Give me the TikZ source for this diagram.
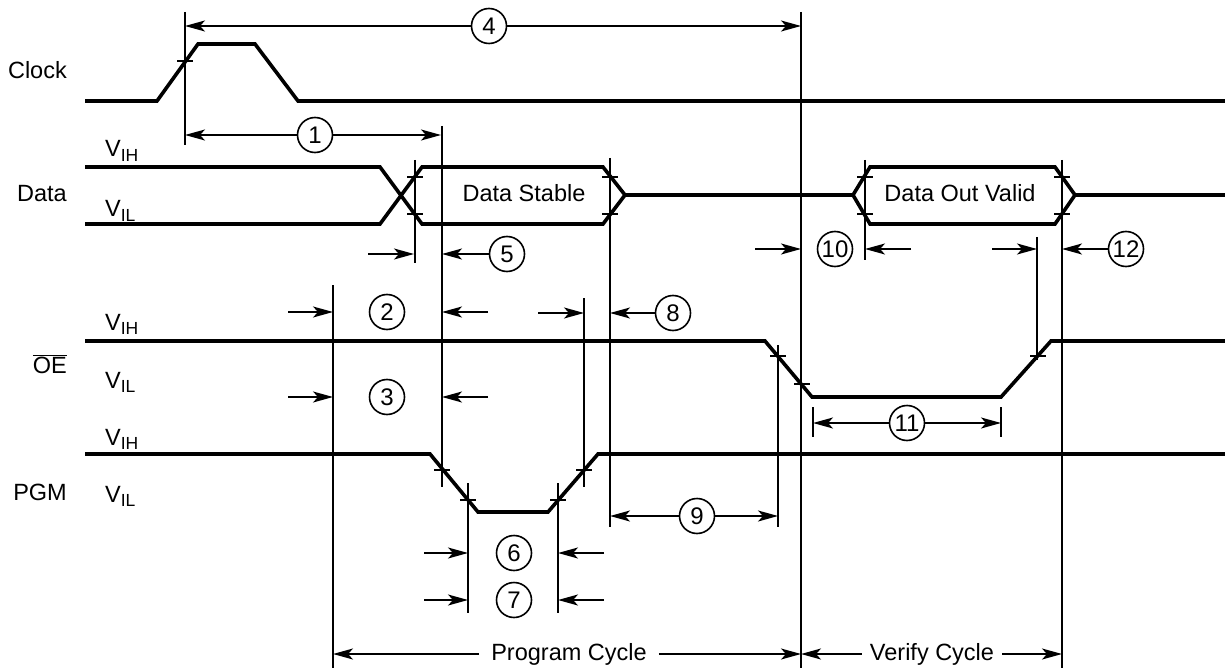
\documentclass[tikz,border=0pt]{standalone}
\usepackage{fontspec}
\setmainfont{Liberation Sans}
\usetikzlibrary{arrows.meta}
\begin{document}
\begin{tikzpicture}[x=1pt,y=-1pt,
  sig/.style={line width=3.6pt, line join=miter},
  guide/.style={line width=1.6pt},
  dim/.style={line width=1.6pt, -{Stealth[length=20pt,width=11pt,inset=5pt]}},
  tk/.style={line width=1.8pt},
  num/.style={circle, draw, line width=1.6pt, minimum size=35pt, inner sep=0pt, font=\fontsize{24}{24}\selectfont},
  lbl/.style={font=\fontsize{23.5}{27}\selectfont, inner sep=0pt},
  cyc/.style={font=\fontsize{23.5}{27}\selectfont, inner sep=12pt},
]
\useasboundingbox (0,0) rectangle (1225,668);
\newcommand{\vsub}[1]{V\raisebox{-4.5pt}{\fontsize{17.5}{17.5}\selectfont #1}}

% ---- signal labels ----
\node[lbl, anchor=base east] (lclk) at (67,79) {Clock};
\node[lbl, anchor=base east] (ldat) at (67,202) {Data};
\node[lbl, anchor=base east] (loe) at (67,373) {$\overline{\hbox{OE}}$};
\node[lbl, anchor=base east] (lpgm) at (67,500) {PGM};
\node[lbl, anchor=base west] (dvih) at (105,157) {\vsub{IH}};
\node[lbl, anchor=base west] (dvil) at (105,217) {\vsub{IL}};
\node[lbl, anchor=base west] (ovih) at (105,330) {\vsub{IH}};
\node[lbl, anchor=base west] (ovil) at (105,388) {\vsub{IL}};
\node[lbl, anchor=base west] (pvih) at (105,445) {\vsub{IH}};
\node[lbl, anchor=base west] (pvil) at (105,502) {\vsub{IL}};

% ---- waveforms ----
\draw[sig] (85,101) -- (157,101) -- (198,44) -- (255,44) -- (298,101) -- (1225,101);
\draw[sig] (85,167) -- (380,167) -- (422,224) -- (603,224) -- (625,195) -- (853,195)
  -- (870,224) -- (1055,224) -- (1075,195) -- (1225,195);
\draw[sig] (85,224) -- (380,224) -- (422,167) -- (603,167) -- (625,195);
\draw[sig] (853,195) -- (870,167) -- (1055,167) -- (1075,195);
\draw[sig] (85,341) -- (765,341) -- (812,397) -- (1001,397) -- (1051,341) -- (1225,341);
\draw[sig] (85,454) -- (430,454) -- (478,512) -- (548,512) -- (598,454) -- (1225,454);

\node[lbl, anchor=base] (dstab) at (524,202) {Data Stable};
\node[lbl, anchor=base] (dout) at (960,202) {Data Out Valid};

% ---- ticks ----
\foreach \x/\y in {185/61, 415/177, 415/214, 610/177, 610/214, 865/177, 865/214,
  1062/177, 1062/214, 778/356, 802/384, 1038/356, 442/470, 468/500, 558/500, 584/470}
  \draw[tk] (\x-8,\y) -- (\x+8,\y);

% ---- guide lines ----
\foreach \x/\a/\b in {185/12/145, 801/12/668, 442/126/487, 415/160/263, 610/158/527,
  865/160/260, 1062/160/668, 1037/237/360, 333/285/668, 584/298/487, 778/345/527,
  468/483/613, 558/483/613, 813/407/437, 1001/407/437}
  \draw[guide] (\x,\a) -- (\x,\b);

% ---- numbered dimensions ----
\node[num] (c4) at (489,26) {4};
\coordinate (c4l) at (185,26); \coordinate (c4r) at (801,26);
\draw[dim] (c4) -- (c4l); \draw[dim] (c4) -- (c4r);

\node[num] (c1) at (315,135) {1};
\coordinate (c1l) at (185,135); \coordinate (c1r) at (441,135);
\draw[dim] (c1) -- (c1l); \draw[dim] (c1) -- (c1r);

\node[num] (c5) at (507,254) {5};
\coordinate (s5) at (368,254); \coordinate (e5a) at (414,254); \coordinate (e5b) at (442,254);
\draw[dim] (s5) -- (e5a); \draw[dim] (c5) -- (e5b);

\node[num] (c10) at (835,249) {10};
\coordinate (s10a) at (755,249); \coordinate (e10a) at (801,249);
\coordinate (s10b) at (911,249); \coordinate (e10b) at (865,249);
\draw[dim] (s10a) -- (e10a); \draw[dim] (s10b) -- (e10b);

\node[num] (c12) at (1126,249) {12};
\coordinate (s12) at (992,249); \coordinate (e12a) at (1037,249); \coordinate (e12b) at (1062,249);
\draw[dim] (s12) -- (e12a); \draw[dim] (c12) -- (e12b);

\node[num] (c2) at (387,312) {2};
\coordinate (s2a) at (288,312); \coordinate (e2a) at (333,312);
\coordinate (s2b) at (488,312); \coordinate (e2b) at (442,312);
\draw[dim] (s2a) -- (e2a); \draw[dim] (s2b) -- (e2b);

\node[num] (c8) at (673,313) {8};
\coordinate (s8) at (538,313); \coordinate (e8a) at (584,313); \coordinate (e8b) at (610,313);
\draw[dim] (s8) -- (e8a); \draw[dim] (c8) -- (e8b);

\node[num] (c3) at (387,397) {3};
\coordinate (s3a) at (288,397); \coordinate (e3a) at (333,397);
\coordinate (s3b) at (488,397); \coordinate (e3b) at (442,397);
\draw[dim] (s3a) -- (e3a); \draw[dim] (s3b) -- (e3b);

\node[num] (c11) at (907,423) {11};
\coordinate (c11l) at (813,423); \coordinate (c11r) at (1001,423);
\draw[dim] (c11) -- (c11l); \draw[dim] (c11) -- (c11r);

\node[num] (c9) at (697,516) {9};
\coordinate (c9l) at (610,516); \coordinate (c9r) at (778,516);
\draw[dim] (c9) -- (c9l); \draw[dim] (c9) -- (c9r);

\node[num] (c6) at (514,553) {6};
\coordinate (s6a) at (424,553); \coordinate (e6a) at (468,553);
\coordinate (s6b) at (604,553); \coordinate (e6b) at (558,553);
\draw[dim] (s6a) -- (e6a); \draw[dim] (s6b) -- (e6b);

\node[num] (c7) at (514,600) {7};
\coordinate (s7a) at (424,600); \coordinate (e7a) at (468,600);
\coordinate (s7b) at (604,600); \coordinate (e7b) at (558,600);
\draw[dim] (s7a) -- (e7a); \draw[dim] (s7b) -- (e7b);

% ---- cycles ----
\node[cyc] (prog) at (569,654) {Program Cycle};
\coordinate (pl) at (333,654); \coordinate (pr) at (801,654);
\draw[dim] (prog) -- (pl); \draw[dim] (prog) -- (pr);

\node[cyc, inner sep=8pt] (ver) at (932,654) {Verify Cycle};
\coordinate (vl) at (801,654); \coordinate (vr) at (1062,654);
\draw[dim] (ver) -- (vl); \draw[dim] (ver) -- (vr);
\end{tikzpicture}
\end{document}
